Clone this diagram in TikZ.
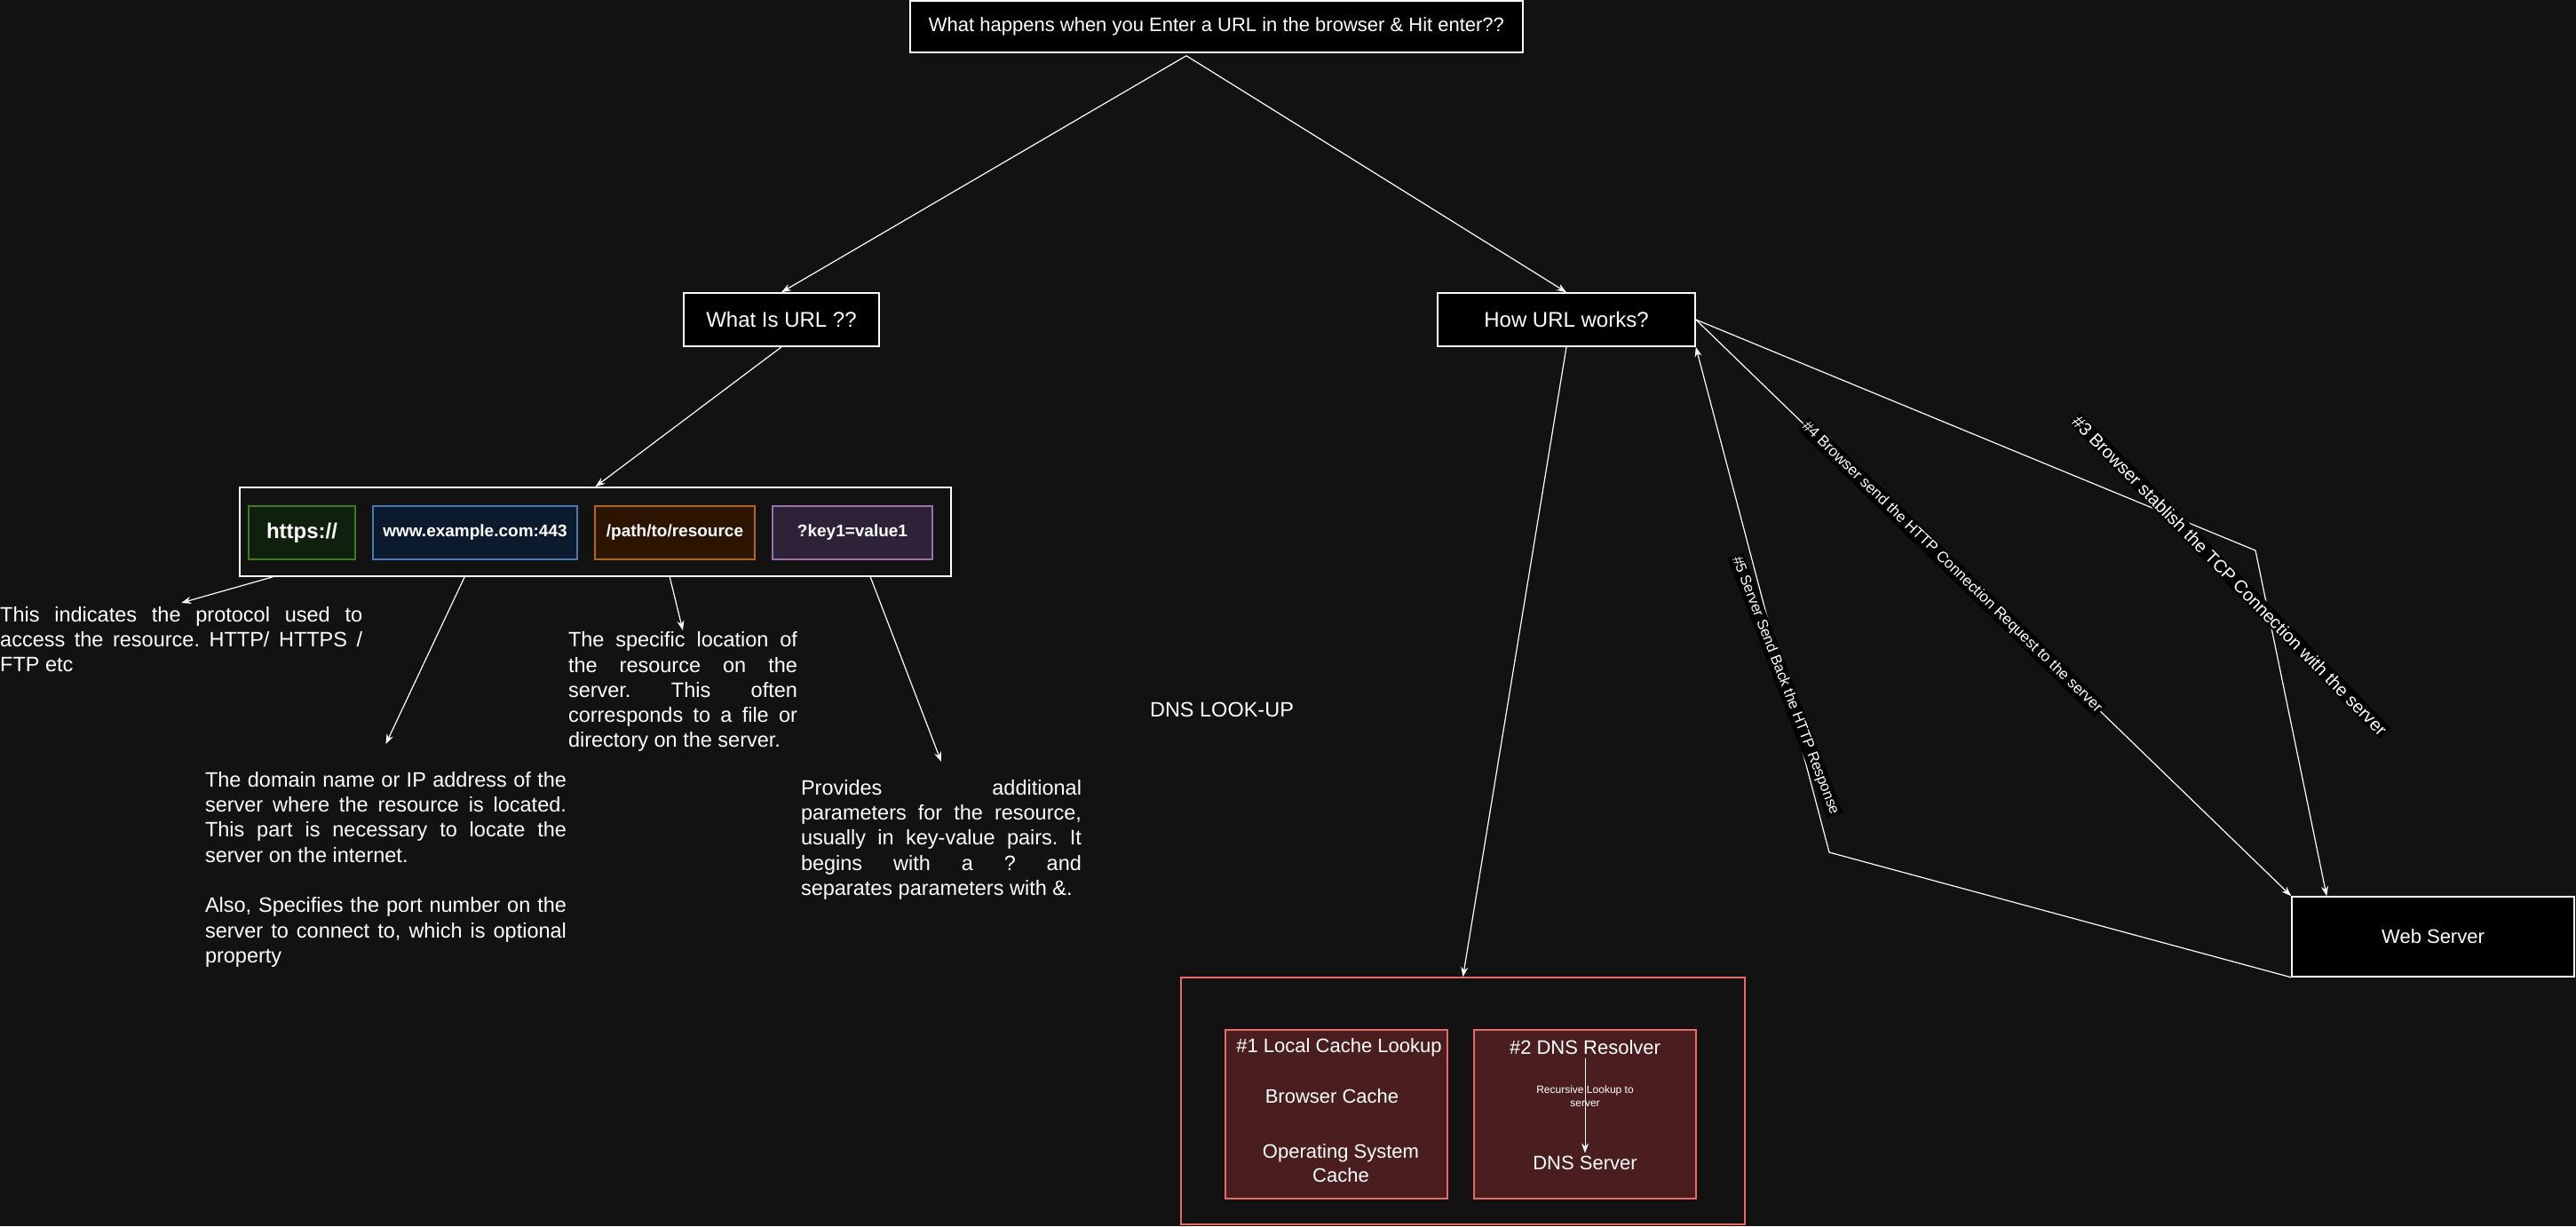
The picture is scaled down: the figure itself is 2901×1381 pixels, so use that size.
\documentclass[tikz,border=0pt]{standalone}
\usepackage{fontspec}
\setmainfont{Liberation Sans}
\usetikzlibrary{arrows.meta,calc}
\frenchspacing

\definecolor{canvas}{HTML}{121212}
\definecolor{schemefill}{HTML}{0F200C}
\definecolor{schemeline}{HTML}{3E7A1E}
\definecolor{hostfill}{HTML}{0C1A2E}
\definecolor{hostline}{HTML}{4A78B0}
\definecolor{routefill}{HTML}{2D1400}
\definecolor{routeline}{HTML}{B46504}
\definecolor{paramsfill}{HTML}{2E2238}
\definecolor{paramsline}{HTML}{9673A6}
\definecolor{cachefill}{HTML}{4A1E1E}
\definecolor{cacheline}{HTML}{EA6B66}

\begin{document}
\begin{tikzpicture}[x=1pt,y=-1pt,>={Stealth[length=11pt,width=8pt]},
    every node/.append style={text=white},
    head/.style={draw=white,fill=black,line width=1.6pt,inner sep=0pt,font={\fontsize{24}{28}\selectfont}},
    part/.style={draw,line width=1.6pt,minimum height=60pt,inner sep=0pt,font={\bfseries\fontsize{19}{22}\selectfont}},
    frame/.style={draw,line width=1.6pt,inner sep=0pt},
    desc/.style={align=justify,inner xsep=0pt,font={\fontsize{23.5}{28.3}\selectfont}},
    cachebox/.style={draw=cacheline,fill=cachefill,line width=1.6pt,minimum width=250pt,minimum height=190pt},
    cachetxt/.style={align=center,font={\fontsize{22}{26.4}\selectfont}},
    link/.style={->,draw=white,line width=1.2pt},
    lbl/.style={fill=black,inner sep=1.5pt,font={\fontsize{17}{20}\selectfont}}]
    \fill[canvas] (0,0) rectangle (2901,1381);
    \useasboundingbox (0,0) rectangle (2901,1381);

    % question
    \node[head,minimum width=690pt,minimum height=58pt,font={\fontsize{22}{26}\selectfont}] (title) at (1370,30) {What happens when you Enter a URL in the browser \& Hit enter??};
    \node[head,minimum width=220pt,minimum height=60pt] (whatis) at (880,360) {What Is URL ??};
    \node[head,minimum width=290pt,minimum height=60pt] (howurl) at (1764,360) {How URL works?};
    \coordinate (fork) at ($(title.south)+(-34,3)$);
    \draw[link] (fork) -- (whatis.north);
    \draw[link] (fork) -- (howurl.north);

    % parts of the url
    \node[frame,draw=white,minimum width=801pt,minimum height=100pt] (urlbar) at (670.5,599) {};
    \node[part,fill=schemefill,draw=schemeline,minimum width=120pt,font={\bfseries\fontsize{24}{28}\selectfont}] (scheme) at (340,600) {https://};
    \node[part,fill=hostfill,draw=hostline,minimum width=230pt] (host) at (535,600) {www.example.com:443};
    \node[part,fill=routefill,draw=routeline,minimum width=180pt] (route) at (760,600) {/path/to/resource};
    \node[part,fill=paramsfill,draw=paramsline,minimum width=180pt] (params) at (960,600) {?key1=value1};
    \draw[link] (whatis.south) -- (urlbar.north);

    % explanations
    \node[desc,text width=408pt,inner ysep=4pt,anchor=north west] (schemetxt) at (0,679) {This indicates the protocol used to\linebreak access the resource. HTTP/ HTTPS /\linebreak FTP etc};
    \node[desc,text width=407pt,inner ysep=31pt,anchor=north] (hosttxt) at (434.5,838) {The domain name or IP address of the\linebreak server where the resource is located.\linebreak This part is necessary to locate the\linebreak server on the internet.\\[28.3pt]Also, Specifies the port number on the\linebreak server to connect to, which is optional\linebreak property};
    \node[desc,text width=258pt,inner ysep=1.5pt,anchor=north] (routetxt) at (769,710) {The specific location of\linebreak the resource on the\linebreak server. This often\linebreak corresponds to a file or\linebreak directory on the server.};
    \node[desc,text width=316pt,inner ysep=20pt,anchor=north] (paramstxt) at (1060,858) {Provides additional\linebreak parameters for the resource,\linebreak usually in key-value pairs. It\linebreak begins with a ? and\linebreak separates parameters with \&.};
    \draw[link] ($(urlbar.south west)+(38,0)$) -- (schemetxt.north);
    \draw[link] ($(urlbar.south west)+(254,0)$) -- (hosttxt.north);
    \draw[link] ($(urlbar.south west)+(485,0)$) -- (routetxt.north);
    \draw[link] ($(urlbar.south west)+(711,0)$) -- (paramstxt.north);

    \node[font={\fontsize{23.5}{28.3}\selectfont}] (dnslabel) at (1376,799) {DNS LOOK-UP};

    % dns look-up
    \node[frame,draw=cacheline,minimum width=635pt,minimum height=278pt] (dnsbox) at (1647.5,1240) {};
    \draw[link] (howurl.south) -- (dnsbox.north);
    \node[cachebox] (localbox) at (1505,1255) {};
    \node[cachebox] (resolverbox) at (1785,1255) {};
    \node[cachetxt] (localhead) at (1508,1180) {\#1 Local Cache Lookup};
    \node[cachetxt] (browsercache) at (1500,1235) {Browser Cache};
    \node[cachetxt] (oscache) at (1510,1310) {Operating System\\Cache};
    \node[cachetxt] (resolverhead) at (1785,1180) {\#2 DNS Resolver};
    \node[cachetxt] (dnsserver) at (1785,1310) {DNS Server};
    \draw[link,line width=1pt] (resolverhead.south) -- node[pos=0.4,align=center,font={\fontsize{12}{15}\selectfont}] (recurse) {Recursive Lookup to\\server} (dnsserver.north);

    % web server
    \node[head,minimum width=318pt,minimum height=90pt,font={\fontsize{22}{26}\selectfont}] (websrv) at (2740,1055) {Web Server};
    \coordinate (bend3) at (2540,620);
    \coordinate (bend5) at (2060,960);
    \draw[link] (howurl.east) -- (bend3) -- ($(websrv.north west)+(40,0)$);
    \node[lbl,rotate=-45.5,font={\fontsize{20}{24}\selectfont}] (tcp) at (2511,648) {\#3 Browser stablish the TCP Connection with the server};
    \draw[link] (howurl.east) -- node[lbl,sloped,pos=0.43] (request) {\#4 Browser send the HTTP Connection Request to the server} (websrv.north west);
    \draw[link] (websrv.south west) -- (bend5) -- node[lbl,rotate=-69,pos=0.33,font={\fontsize{16.5}{20}\selectfont}] (response) {\#5 Server Send Back the HTTP Response} (howurl.south east);
\end{tikzpicture}
\end{document}
